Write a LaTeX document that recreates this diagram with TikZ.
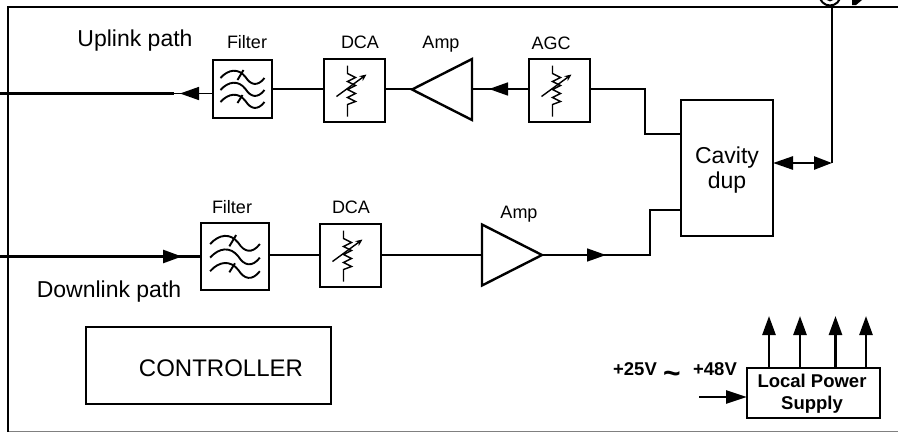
\documentclass[tikz,border=0pt]{standalone}
\usepackage{fontspec}
\setmainfont{Liberation Sans}
\usetikzlibrary{arrows.meta,shapes.geometric}

\begin{document}
\begin{tikzpicture}[
  x=1pt, y=-1pt,
  lbl/.style={anchor=base, inner sep=0pt, font=\fontsize{18}{20}\selectfont},
  biglbl/.style={anchor=base, inner sep=0pt, font=\fontsize{23}{25}\selectfont},
  boldlbl/.style={anchor=base, inner sep=0pt, font=\fontsize{18.5}{20}\selectfont\bfseries},
  block/.style={draw, line width=2.6pt, inner sep=0pt, outer sep=0pt},
  amp/.style={draw, line width=2.4pt, isosceles triangle, isosceles triangle stretches,
    inner sep=0pt, outer sep=0pt, minimum width=61pt, minimum height=60pt, anchor=apex},
  wire/.style={line width=1.5pt},
  fat/.style={line width=2.6pt},
  arr/.style={-{Triangle[length=19pt, width=13pt]}},
  filtericon/.pic={
    \foreach \dy in {0,12,24}
      \draw[line width=1.9pt, shift={(0,\dy)}] (-22,-11) .. controls (-14,-20) and (-4,-21) .. (3,-12)
        .. controls (8,-4) and (15,-2) .. (22,-11);
    \draw[line width=1.9pt] (-5,-9) -- (1,-19);
    \draw[line width=1.9pt] (-5,14) -- (0,6);
  },
  resicon/.pic={
    \draw[line width=1.4pt] (-7,-25) -- (-7,-17) -- (1,-13) -- (-7,-9) -- (1,-5) -- (-7,-1)
      -- (1,3) -- (-7,7) -- (1,11) -- (-7,14) -- (-7,26);
    \draw[line width=1.4pt, -{Stealth[length=7pt, width=6pt]}] (-18,6) -- (12,-16);
  }
]
\useasboundingbox (0,0) rectangle (898,432);

% outer frame
\coordinate (frameBL) at (8,432);
\coordinate (frameTL) at (8,7);
\coordinate (frameTR) at (898,7);
\draw[gray, line width=1pt] (8,431.5) -- (898,431.5);
\draw[line width=2.2pt] (frameBL) -- (frameTL) -- (frameTR);

% uplink
\node[block, minimum width=59pt, minimum height=58pt] (FLT1) at (242.5,89) {};
\node[block, minimum width=61pt, minimum height=63pt] (DCA1) at (354.5,90.5) {};
\node[amp, shape border rotate=180] (AMP1) at (412,89.5) {};
\node[block, minimum width=61pt, minimum height=63pt] (AGC) at (559.5,90.5) {};
\pic at (FLT1) {filtericon};
\pic at (DCA1) {resicon};
\pic at (AGC) {resicon};
\node[biglbl] (lblUp) at (135,46) {Uplink path};
\node[lbl] (lblF1) at (247,48) {Filter};
\node[lbl] (lblD1) at (360,48) {DCA};
\node[lbl] (lblA1) at (441,48) {Amp};
\node[lbl] (lblAGC) at (551,49) {AGC};

% downlink
\node[block, minimum width=68pt, minimum height=67pt] (FLT2) at (235,256.5) {};
\node[block, minimum width=61pt, minimum height=63pt] (DCA2) at (350.5,255.5) {};
\node[amp, shape border rotate=0] (AMP2) at (542,255) {};
\pic[scale=1.13] at (FLT2) {filtericon};
\pic at (DCA2) {resicon};
\node[biglbl] (lblDown) at (109,297) {Downlink path};
\node[lbl] (lblF2) at (232,213) {Filter};
\node[lbl] (lblD2) at (351,213) {DCA};
\node[lbl] (lblA2) at (519,218) {Amp};

% duplexer
\node[draw, line width=1.8pt, inner sep=0pt, outer sep=0pt, minimum width=92pt, minimum height=136pt] (DUP) at (727,168) {};
\node[biglbl] (lblDup1) at (727,163) {Cavity};
\node[biglbl] (lblDup2) at (727,188) {dup};

% antenna port
\node[draw, circle, line width=2pt, minimum size=21pt, inner sep=0pt] (ANT) at (830,-5) {};
\node[draw, circle, line width=1.6pt, minimum size=11pt, inner sep=0pt] (ANTin) at (830,-5) {};
\fill (852,0) -- (862,0) -- (856,5) -- (852,5) -- cycle;

% controller and power
\node[draw, line width=1.5pt, inner sep=0pt, minimum width=245pt, minimum height=77pt] (CTRL) at (208.5,365.5) {};
\node[anchor=base, inner sep=0pt, font=\fontsize{24}{26}\selectfont] (lblCtrl) at (221,376) {CONTROLLER};
\node[block, minimum width=133pt, minimum height=50pt] (LPS) at (813.5,393) {};
\node[boldlbl] (lblLPS1) at (812,387) {Local Power};
\node[boldlbl] (lblLPS2) at (812,409) {Supply};
\node[boldlbl] (lblV1) at (635,375) {+25V};
\node[boldlbl, font=\fontsize{30}{30}\selectfont\bfseries] (lblTilde) at (672,383) {\char`\~};
\node[boldlbl] (lblV2) at (715,375) {+48V};

% connectors
\coordinate (upL) at (0,93.5);
\coordinate (upK) at (174,93.5);
\coordinate (upT) at (180,93.5);
\draw[fat] (upL) -- (upK);
\draw[wire] (upK) -- (FLT1.west |- upK);
\draw[wire, arr] (FLT1.west |- upL) -- (upT);
\draw[wire] (FLT1.east |- 0,89) -- (DCA1.west |- 0,89);
\draw[wire] (DCA1.east |- 0,89) -- (AMP1.apex |- 0,89);
\coordinate (agcT) at (489,89);
\draw[wire] (AGC.west |- agcT) -- (AMP1.east |- agcT);
\draw[wire, arr] (AGC.west |- agcT) -- (agcT);
\coordinate (upBend) at (645,89);
\coordinate (upBend2) at (645,134);
\draw[wire] (AGC.east |- upBend) -- (upBend) -- (upBend2) -- (DUP.west |- upBend2);

\coordinate (dnL) at (0,256.5);
\coordinate (dnT) at (182,256.5);
\draw[fat] (dnL) -- (FLT2.west |- dnL);
\draw[fat, arr] (dnL) -- (dnT);
\draw[wire] (FLT2.east |- 0,255) -- (DCA2.west |- 0,255);
\draw[wire] (DCA2.east |- 0,255) -- (AMP2.west |- 0,255);
\coordinate (ampT) at (606,255);
\coordinate (dnBend) at (650,255);
\coordinate (dnBend2) at (650,210);
\draw[wire] (AMP2.apex) -- (dnBend) -- (dnBend2) -- (DUP.west |- dnBend2);
\draw[wire, arr] (AMP2.apex) -- (ampT);

\coordinate (antT) at (832,163);
\draw[wire] (antT) -- (832,5);
\draw[fat, {Triangle[length=20pt, width=13pt]}-{Triangle[length=18pt, width=13pt]}] (DUP.east |- antT) -- (antT);

\coordinate (pwrIn) at (699,397);
\draw[fat, {-Triangle[length=21pt, width=13pt]}] (pwrIn) -- (LPS.west |- pwrIn);
\foreach \px/\nm in {769/a,800/b,835.5/c,866/d} {
  \coordinate (out\nm) at (\px,316);
  \draw[fat, {-Triangle[length=19pt, width=13pt]}] (LPS.north -| out\nm) -- (out\nm);
}
\end{tikzpicture}
\end{document}
